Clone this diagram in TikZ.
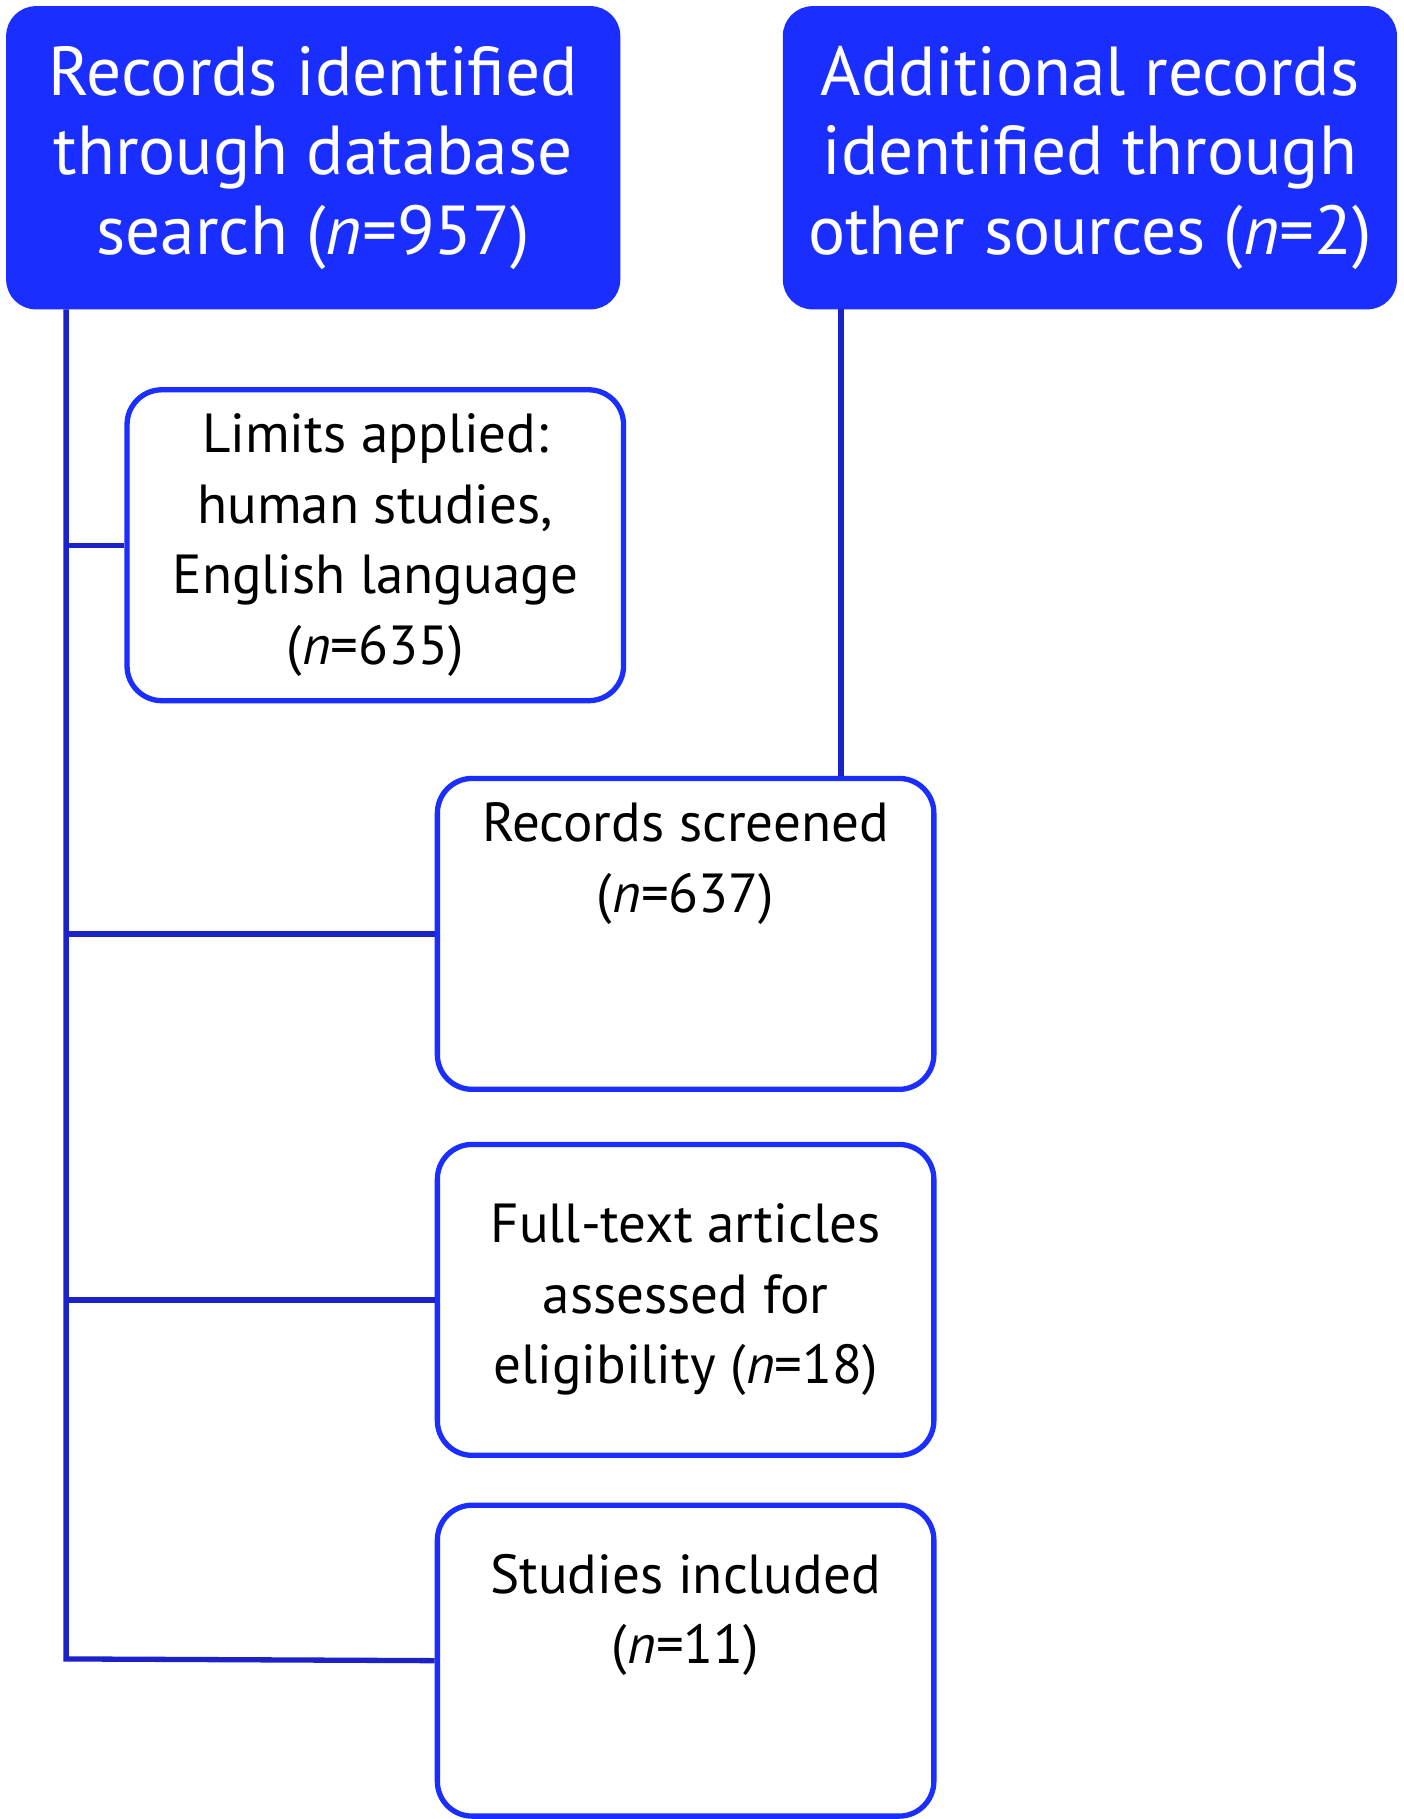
\documentclass[tikz,border=0pt]{standalone}
\usepackage{fontspec}
\setmainfont{PT Sans}
\definecolor{boxblue}{HTML}{1A2EFF}
\definecolor{lineblue}{HTML}{1A22C8}
\begin{document}
\begin{tikzpicture}[
            source/.style={rectangle, draw=boxblue, fill=boxblue, rounded corners=0.25cm, minimum width=5.28cm, minimum height=2.6cm, align=center, text=white, font=\fontsize{17}{19.5}\selectfont},
            stage/.style={rectangle, draw=boxblue, line width=1.3pt, rounded corners=0.3cm, minimum width=4.28cm, minimum height=2.68cm, align=center, font=\fontsize{13.5}{17.3}\selectfont},
            link/.style={draw=lineblue, line width=1.3pt}
            ]
            \useasboundingbox (0,0) rectangle (12.1,-15.68);

            % Sources
            \node[source] (dbs) at (2.70,-1.36) {Records identified\\through database\\search (\textit{n}=957)};
            \node[source] (other) at (9.395,-1.36) {Additional records\\identified through\\other sources (\textit{n}=2)};

            % Stages
            \node[stage] (limits) at (3.235,-4.70) {Limits applied:\\human studies,\\English language\\(\textit{n}=635)};
            \node[stage] (screened) at (5.91,-8.05) {Records screened\\(\textit{n}=637)\\[1.5em]};
            \node[stage] (fulltext) at (5.91,-11.205) {Full-text articles\\assessed for\\eligibility (\textit{n}=18)};
            \node[stage] (included) at (5.91,-14.315) {Studies included\\(\textit{n}=11)\\[0.6em]};

            % Connectors
            \coordinate (trunk) at (0.57,-14.30);
            \coordinate (branch) at (7.25,0);
            \draw[link] (dbs.south -| trunk) -- (trunk) -- (included.west);
            \draw[link] (limits.west) -- (limits.west -| trunk);
            \draw[link] (screened.west) -- (screened.west -| trunk);
            \draw[link] (fulltext.west) -- (fulltext.west -| trunk);
            \draw[link] (other.south -| branch) -- (screened.north -| branch);

        \end{tikzpicture}
\end{document}
